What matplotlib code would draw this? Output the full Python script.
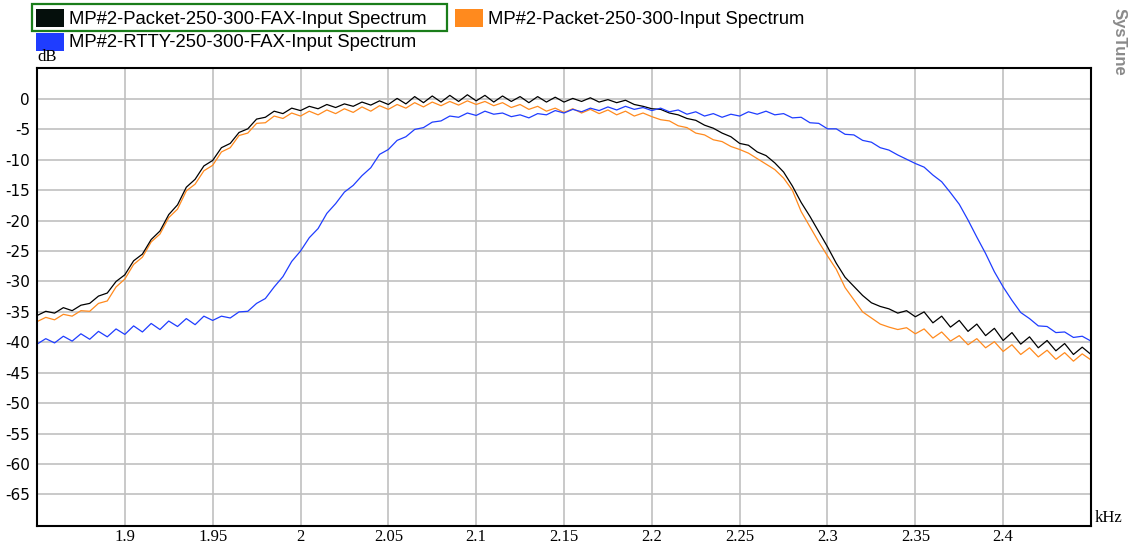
import numpy as np
import matplotlib
matplotlib.use('Agg')
import matplotlib.pyplot as plt
from matplotlib.patches import Rectangle

# frequency grid in kHz, 5 Hz step
freq = np.arange(1850, 2451, 5) / 1000.0

packet_fax = [
    -35.6, -34.9, -35.2, -34.3, -34.8, -33.9, -33.6, -32.4, -31.9, -30.0,
    -28.9, -26.6, -25.5, -23.1, -21.7, -19.0, -17.4, -14.5, -13.2, -11.0,
    -10.1, -8.0, -7.3, -5.5, -4.9, -3.3, -3.0, -2.0, -2.4, -1.5,
    -1.9, -1.2, -1.6, -0.9, -1.4, -0.8, -1.2, -0.5, -1.0, -0.3,
    -0.9, 0.1, -0.8, 0.4, -0.6, 0.5, -0.5, 0.6, -0.4, 0.7,
    -0.3, 0.6, -0.5, 0.5, -0.4, 0.4, -0.6, 0.4, -0.5, 0.3,
    -0.5, 0.1, -0.4, 0.2, -0.5, -0.1, -0.6, -0.2, -0.9, -1.2,
    -1.6, -1.7, -2.3, -2.6, -3.2, -3.5, -4.3, -4.8, -5.6, -6.2,
    -7.3, -7.6, -8.7, -9.3, -10.5, -12.0, -14.3, -17.0, -19.3, -21.8,
    -24.3, -27.0, -29.3, -30.8, -32.3, -33.5, -34.1, -34.5, -35.2, -34.8,
    -35.8, -35.0, -36.8, -35.7, -37.5, -36.4, -38.2, -37.0, -38.9, -37.7,
    -39.7, -38.4, -40.3, -39.1, -40.9, -39.7, -41.4, -40.2, -42.0, -40.8,
    -42.0]

packet = [
    -36.6, -35.9, -36.3, -35.4, -35.7, -34.8, -34.9, -33.6, -33.2, -30.9,
    -29.6, -27.2, -26.0, -23.5, -22.2, -19.5, -18.1, -15.1, -14.0, -11.8,
    -10.9, -8.7, -8.0, -6.0, -5.6, -4.0, -3.9, -2.8, -3.2, -2.3,
    -2.8, -2.0, -2.6, -1.8, -2.4, -1.6, -2.2, -1.3, -2.0, -1.1,
    -1.7, -0.9, -1.5, -0.6, -1.3, -0.5, -1.1, -0.4, -1.0, -0.3,
    -0.9, -0.4, -1.1, -0.6, -1.4, -0.9, -1.7, -1.2, -2.0, -1.5,
    -2.2, -1.6, -2.3, -1.7, -2.4, -1.8, -2.6, -2.0, -2.8, -2.3,
    -2.9, -3.4, -3.6, -4.4, -4.7, -5.6, -5.9, -6.7, -7.0, -7.8,
    -8.3, -8.9, -9.8, -10.7, -11.6, -13.0, -15.0, -18.5, -21.0, -23.5,
    -25.8, -28.0, -31.0, -33.0, -35.0, -36.0, -37.0, -37.5, -37.9, -37.6,
    -38.6, -37.8, -39.3, -38.3, -39.8, -38.9, -40.4, -39.4, -40.9, -39.9,
    -41.5, -40.4, -42.0, -40.9, -42.4, -41.3, -42.8, -41.7, -43.1, -41.9,
    -42.9]

rtty_fax = [
    -40.3, -39.4, -40.1, -39.0, -39.8, -38.6, -39.5, -38.2, -39.1, -37.8,
    -38.7, -37.3, -38.3, -36.9, -37.9, -36.5, -37.4, -36.1, -37.1, -35.7,
    -36.4, -35.7, -36.0, -35.0, -34.9, -33.6, -32.8, -30.9, -29.2, -26.7,
    -25.0, -22.8, -21.3, -18.8, -17.2, -15.3, -14.2, -12.6, -11.3, -9.1,
    -8.3, -6.8, -6.2, -5.0, -4.7, -3.8, -3.6, -2.8, -3.0, -2.3,
    -2.7, -2.0, -2.5, -2.3, -2.9, -2.6, -3.1, -2.4, -2.6, -1.9,
    -2.3, -1.7, -2.1, -1.5, -1.9, -1.3, -1.8, -1.2, -1.7, -1.4,
    -1.9, -1.5, -2.1, -1.8, -2.5, -2.1, -2.8, -2.4, -3.0, -2.5,
    -2.8, -2.1, -2.5, -2.0, -2.6, -2.4, -3.1, -3.0, -3.9, -4.0,
    -4.9, -4.9, -5.8, -5.9, -6.8, -7.1, -8.0, -8.4, -9.2, -9.9,
    -10.6, -11.2, -12.5, -13.6, -15.4, -17.3, -19.9, -22.7, -25.4, -28.4,
    -30.9, -33.1, -35.1, -36.1, -37.3, -37.4, -38.4, -38.3, -39.2, -39.0,
    -39.8]

x_ticks = [1.9, 1.95, 2.0, 2.05, 2.1, 2.15, 2.2, 2.25, 2.3, 2.35, 2.4]
x_labels = ['1.9', '1.95', '2', '2.05', '2.1', '2.15', '2.2', '2.25', '2.3', '2.35', '2.4']
y_ticks = list(range(0, -70, -5))

names = ['MP#2-Packet-250-300-FAX-Input Spectrum',
         'MP#2-Packet-250-300-Input Spectrum',
         'MP#2-RTTY-250-300-FAX-Input Spectrum']
colors = ['#000000', '#ff8a1e', '#1f3dff']

W, H = 1133, 546
fig = plt.figure(figsize=(W / 100, H / 100), dpi=100)
ax = fig.add_axes([37 / W, (H - 526) / H, (1091 - 37) / W, (526 - 68) / H])

ax.plot(freq, packet, color=colors[1], lw=0.9)
ax.plot(freq, packet_fax, color=colors[0], lw=0.9)
ax.plot(freq, rtty_fax, color=colors[2], lw=0.9)

ax.set_xlim(1.85, 2.45)
ax.set_ylim(-70.2, 5.1)
ax.set_xticks(x_ticks)
ax.set_xticklabels(x_labels, family='Liberation Serif', fontsize=12)
ax.set_yticks(y_ticks)
ax.set_yticklabels([str(v) for v in y_ticks], family='DejaVu Sans', fontsize=11)
ax.tick_params(axis='y', length=0, pad=5)
ax.tick_params(axis='x', length=0, pad=2)
ax.grid(True, color='#c0c0c0', lw=1.2)
ax.set_axisbelow(True)
for s in ax.spines.values():
    s.set_color('black')
    s.set_linewidth(1.5)


def fx(px):
    return px / W


def fy(py):
    return 1 - py / H


fig.text(fx(37), fy(57), 'dB', family='Liberation Serif', fontsize=12, va='center', ha='left')
fig.text(fx(1095), fy(518), 'kHz', family='Liberation Serif', fontsize=12, va='center', ha='left')
fig.text(fx(1119), fy(42), 'SysTune', family='Liberation Sans', fontsize=12, fontweight='bold',
         color='#8a8a8a', rotation=270, va='center', ha='center')

# legend entries
leg = [(36, 18, names[0], colors[0]), (455, 18, names[1], colors[1]), (36, 42, names[2], colors[2])]
for x0, yc, txt, c in leg:
    fig.patches.append(Rectangle((fx(x0), fy(yc + 9)), 28 / W, 18 / H, transform=fig.transFigure,
                                 facecolor=c if c != '#000000' else '#050f0c', edgecolor='none'))
    fig.text(fx(x0 + 33), fy(yc + 1), txt, family='Liberation Sans', fontsize=13.3, va='center', ha='left')
fig.patches.append(Rectangle((fx(32), fy(31)), 415 / W, 27 / H, transform=fig.transFigure,
                             facecolor='none', edgecolor='#1a7d1a', lw=1.6))

fig.savefig('out.png', dpi=100)
